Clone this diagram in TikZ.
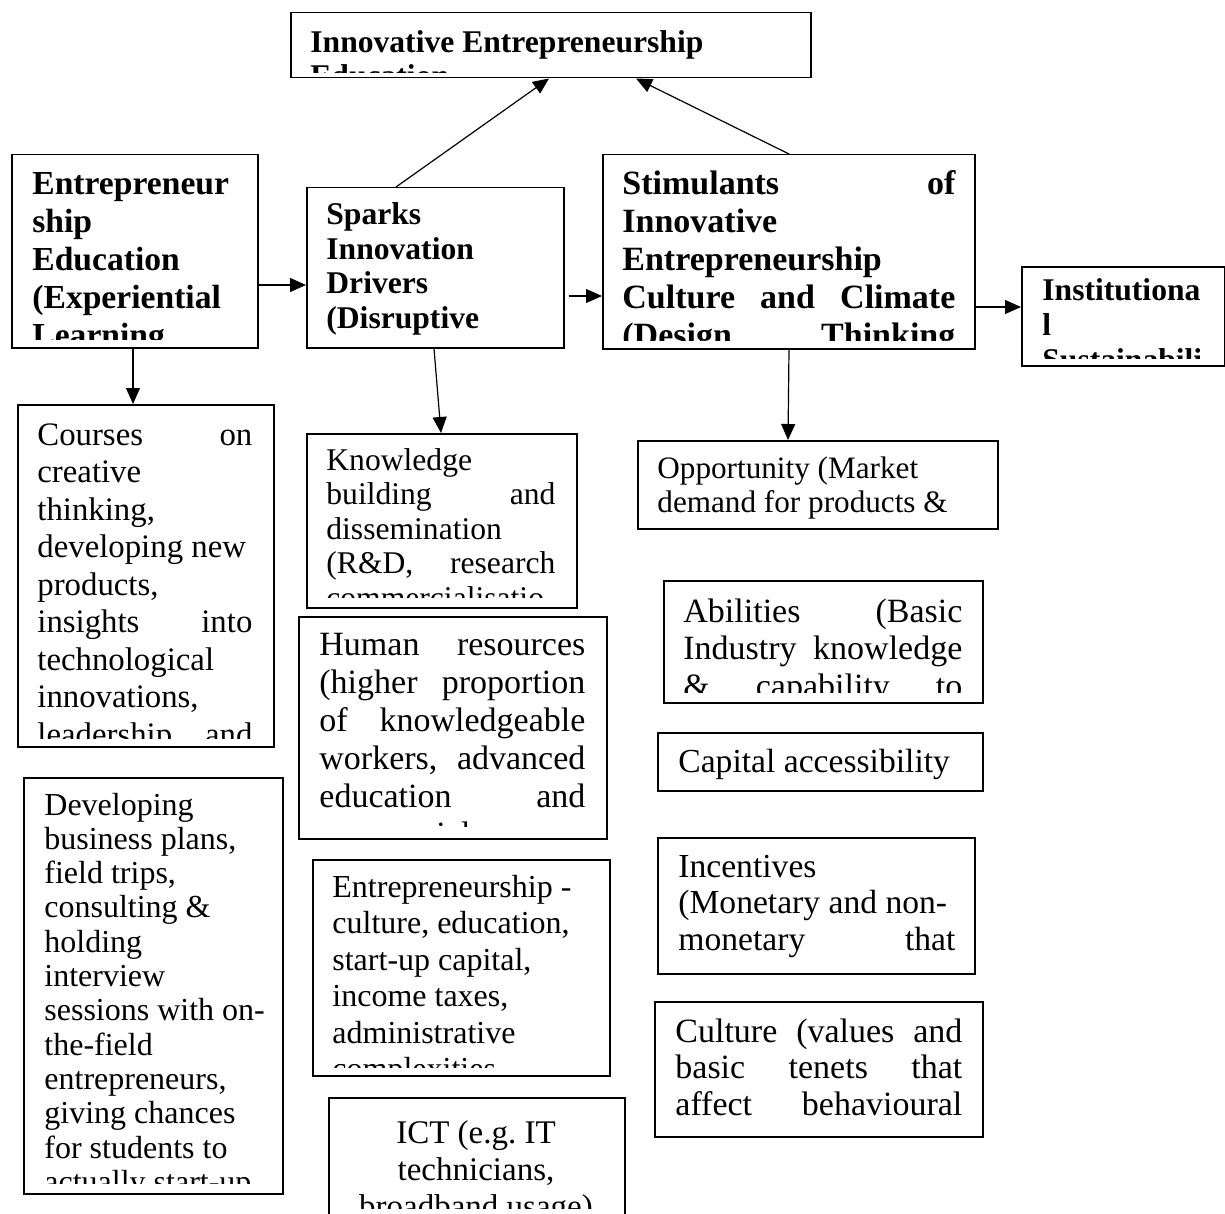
\documentclass[tikz,border=0pt]{standalone}
\usepackage{fontspec}
\setmainfont{Liberation Serif}
\usetikzlibrary{arrows.meta}
\hyphenpenalty=10000
\exhyphenpenalty=10000
\frenchspacing

\tikzset{
  box/.style={draw, line width=0.75pt, inner sep=0pt, anchor=north west},
  txt/.style={inner sep=0pt, anchor=base west},
  link/.style={-{Triangle[length=8pt,width=7pt]}, line width=0.6pt},
}

\begin{document}
\begin{tikzpicture}[x=0.5pt, y=-0.5pt]
            \useasboundingbox (0,0) rectangle (1225,1214);

            % heading row
            \node[box, minimum width=260pt, minimum height=32.5pt] (top) at (290,12) {};
            \begin{scope}
                \clip (290,12) rectangle (810,73);
                \node[txt, font=\bfseries\fontsize{15.8}{17}\selectfont] (topT) at (310,53)
                    {\parbox[t]{240pt}{\raggedright Innovative Entrepreneurship\\ Education}};
            \end{scope}

            \node[box, minimum width=123pt, minimum height=96.5pt] (ee) at (11,154) {};
            \begin{scope}
                \clip (11,154) rectangle (257,339);
                \node[txt, font=\bfseries\fontsize{16.8}{19}\selectfont] (eeT) at (32,195)
                    {\parbox[t]{110pt}{\raggedright Entrepreneur\\ ship\\ Education\\ (Experiential\\ Learning}};
            \end{scope}

            \node[box, minimum width=128.5pt, minimum height=80pt] (spk) at (306,187) {};
            \begin{scope}
                \clip (306,187) rectangle (563,339);
                \node[txt, font=\bfseries\fontsize{15.8}{17.2}\selectfont] (spkT) at (326,225)
                    {\parbox[t]{110pt}{\raggedright Sparks\\ Innovation\\ Drivers\\ (Disruptive}};
            \end{scope}

            \node[box, minimum width=186pt, minimum height=97pt] (stim) at (602,154) {};
            \begin{scope}
                \clip (602,154) rectangle (974,340);
                \node[txt, font=\bfseries\fontsize{17}{19}\selectfont] (stimT) at (622,195)
                    {\parbox[t]{166.5pt}{\raggedright Stimulants \hfill of\\ Innovative\\ Entrepreneurship\\
                    Culture \hfill and \hfill Climate\\ (Design \hfill Thinking}};
            \end{scope}

            \node[box, minimum width=101.5pt, minimum height=49.5pt] (inst) at (1021,266) {};
            \begin{scope}
                \clip (1021,266) rectangle (1224,358);
                \node[txt, font=\bfseries\fontsize{15.8}{17.5}\selectfont] (instT) at (1042,300)
                    {\parbox[t]{85pt}{\raggedright Institutiona\\ l\\ Sustainabili}};
            \end{scope}

            % left column
            \node[box, minimum width=128pt, minimum height=171pt] (crs) at (17,404) {};
            \begin{scope}
                \clip (17,404) rectangle (273,738);
                \node[txt, font=\fontsize{16.4}{18.75}\selectfont] (crsT) at (37,445)
                    {\parbox[t]{107.5pt}{\raggedright Courses \hfill on\\ creative\\ thinking,\\ \mbox{developing new}\\
                    products,\\ insights \hfill into\\ technological\\ innovations,\\ leadership \hfill and}};
            \end{scope}

            \node[box, minimum width=129.5pt, minimum height=208pt] (dev) at (23,777) {};
            \begin{scope}
                \clip (23,777) rectangle (282,1183);
                \node[txt, font=\fontsize{16}{17.15}\selectfont] (devT) at (44,815)
                    {\parbox[t]{115pt}{\raggedright Developing\\ business plans,\\ field trips,\\ consulting \&\\ holding\\
                    interview\\ sessions with on-\\ the-field\\ entrepreneurs,\\ giving chances\\ for students to\\
                    actually start-up}};
            \end{scope}

            % middle column
            \node[box, minimum width=135pt, minimum height=87pt] (knw) at (306,433) {};
            \begin{scope}
                \clip (306,433) rectangle (576,597);
                \node[txt, font=\fontsize{15.8}{17.25}\selectfont] (knwT) at (326,470)
                    {\parbox[t]{114.5pt}{\raggedright Knowledge\\ building \hfill and\\ dissemination\\
                    (R\&D, \hfill research\\ commercialisatio}};
            \end{scope}

            \node[box, minimum width=154pt, minimum height=111pt] (hum) at (298,616) {};
            \begin{scope}
                \clip (298,616) rectangle (606,826);
                \node[txt, font=\fontsize{17}{19}\selectfont] (humT) at (319,655)
                    {\parbox[t]{133pt}{\raggedright Human \hfill resources\\ (higher \hfill proportion\\
                    of \hfill knowledgeable\\ workers, \hfill advanced\\ education \hfill and\\ managerial}};
            \end{scope}

            \node[box, minimum width=148.5pt, minimum height=108pt] (ent) at (312,859) {};
            \begin{scope}
                \clip (312,859) rectangle (609,1067);
                \node[txt, font=\fontsize{16}{18.25}\selectfont] (entT) at (332,897)
                    {\parbox[t]{130pt}{\raggedright Entrepreneurship -\\ culture, education,\\ start-up capital,\\
                    income taxes,\\ administrative\\ complexities}};
            \end{scope}

            \node[box, minimum width=148pt, minimum height=58.5pt] (ict) at (328,1097) {};
            \begin{scope}
                \clip (328,1097) rectangle (624,1208);
                \node[txt, anchor=base, font=\fontsize{16.5}{18.5}\selectfont] (ictT) at (476,1143)
                    {\parbox[t]{140pt}{\centering ICT (e.g. IT\\ technicians,\\ broadband usage)}};
            \end{scope}

            % right column
            \node[box, minimum width=180pt, minimum height=44pt] (opp) at (637,440) {};
            \node[txt, font=\fontsize{15.6}{17}\selectfont] (oppT) at (657,478)
                {\parbox[t]{165pt}{\raggedright Opportunity (Market\\ demand for products \&}};

            \node[box, minimum width=159.5pt, minimum height=61pt] (abl) at (663,580) {};
            \begin{scope}
                \clip (663,580) rectangle (982,692);
                \node[txt, font=\fontsize{17}{18.75}\selectfont] (ablT) at (683,622)
                    {\parbox[t]{139.5pt}{\raggedright Abilities \hfill (Basic\\ Industry \hfill knowledge\\
                    \& \hfill capability \hfill to}};
            \end{scope}

            \node[box, minimum width=162.5pt, minimum height=29pt] (cap) at (657,732) {};
            \node[txt, font=\fontsize{16.8}{18}\selectfont] (capT) at (678,772) {Capital accessibility};

            \node[box, minimum width=158.5pt, minimum height=68pt] (inc) at (657,837) {};
            \node[txt, font=\fontsize{16.8}{18.25}\selectfont] (incT) at (678,877)
                {\parbox[t]{138.5pt}{\raggedright Incentives\\ \mbox{(Monetary and non-}\\ monetary \hfill that}};

            \node[box, minimum width=164pt, minimum height=67.5pt] (cul) at (654,1001) {};
            \node[txt, font=\fontsize{17}{18.25}\selectfont] (culT) at (675,1042)
                {\parbox[t]{143.5pt}{\raggedright Culture \hfill (values \hfill and\\ basic \hfill tenets \hfill that\\
                affect \hfill behavioural}};

            % connectors
            \draw[link] ([xshift=45pt]spk.north west) -- ([xshift=129.5pt]top.south west);
            \draw[link] ([xshift=93.5pt]stim.north west) -- ([xshift=173pt]top.south west);
            \draw[link] ([yshift=-65.5pt]ee.north east) -- ([yshift=-49pt]spk.north west);
            \draw[link] ([xshift=2pt,yshift=-54.5pt]spk.north east) -- ([yshift=-71pt]stim.north west);
            \draw[link] ([yshift=-76.5pt]stim.north east) -- ([yshift=-20.5pt]inst.north west);
            \draw[link] ([xshift=61pt]ee.south west) -- ([xshift=58pt]crs.north west);
            \draw[link] ([xshift=64pt]spk.south west) -- ([xshift=67.5pt]knw.north west);
            \draw[link] ([xshift=93.5pt]stim.south west) -- ([xshift=75.5pt]opp.north west);
\end{tikzpicture}
\end{document}
